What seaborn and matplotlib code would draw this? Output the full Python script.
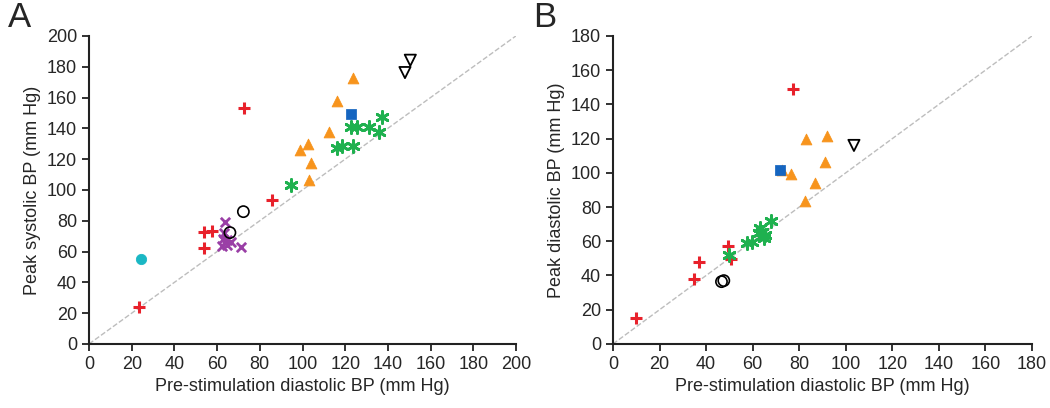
import numpy as np
import matplotlib
matplotlib.use('Agg')
import matplotlib.pyplot as plt
import seaborn as sns

# ---- panel A: pre-stimulation diastolic vs peak systolic ----
a_plus_x = [72.5, 23.6, 53.7, 57.7, 53.7, 85.6]
a_plus_y = [153.4, 24.2, 72.5, 73.6, 62.1, 93.5]
a_cyan_x = [24.2]
a_cyan_y = [55.4]
a_circ_x = [66.0, 72.3]
a_circ_y = [72.3, 85.9]
a_cross_x = [63.7, 63.2, 62.6, 64.8, 62.1, 66.4, 71.0, 64.5]
a_cross_y = [79.0, 71.9, 68.2, 67.5, 63.8, 66.0, 63.2, 64.3]
a_star_x = [94.5, 116.3, 118.3, 123.8, 122.6, 125.4, 131.0, 135.7, 137.1]
a_star_y = [103.5, 127.5, 128.6, 128.6, 141.1, 140.7, 140.7, 137.9, 147.6]
a_tri_x = [102.7, 98.8, 104.0, 103.0, 112.6, 116.2, 123.7]
a_tri_y = [129.9, 126.0, 117.7, 106.5, 137.4, 157.6, 172.9]
a_sq_x = [122.6]
a_sq_y = [149.0]
a_dtri_x = [150.5, 148.0]
a_dtri_y = [184.2, 176.2]

# ---- panel B: pre-stimulation diastolic vs peak diastolic ----
b_plus_x = [9.9, 35.0, 36.9, 49.4, 50.8, 77.4]
b_plus_y = [15.4, 37.8, 47.7, 57.1, 49.7, 149.0]
b_star_x = [49.7, 67.7, 63.1, 64.2, 62.8, 65.2, 64.8, 59.8, 57.6]
b_star_y = [52.2, 72.0, 67.6, 65.6, 64.7, 63.7, 61.8, 59.8, 59.2]
b_circ_x = [46.6, 47.6]
b_circ_y = [36.4, 37.0]
b_tri_x = [72.7, 76.3, 83.0, 92.0, 91.0, 86.7, 82.3]
b_tri_y = [101.7, 99.2, 119.6, 121.6, 106.2, 94.3, 83.4]
b_sq_x = [71.7]
b_sq_y = [101.5]
b_dtri_x = [103.5]
b_dtri_y = [116.0]

RED = '#e8212b'
ORANGE = '#f7941d'
GREEN = '#1fb14f'
BLUE = '#1565c0'
CYAN = '#1ab7c4'
PURPLE = '#9a3fa6'

sns.set_style('ticks')
plt.rcParams['font.family'] = ['Liberation Sans', 'DejaVu Sans']

fig = plt.figure(figsize=(10.5, 4.08), dpi=100)
axA = fig.add_axes([0.0848, 0.157, 0.4066, 0.755])
axB = fig.add_axes([0.5838, 0.157, 0.3991, 0.755])


def plus(ax, x, y):
    sns.scatterplot(x=x, y=y, ax=ax, marker='+', color=RED, s=85, linewidth=2.2, zorder=3)


def star(ax, x, y):
    sns.scatterplot(x=x, y=y, ax=ax, marker=(6, 2, 0), color=GREEN, edgecolor=GREEN,
                    s=75, linewidth=2, zorder=3)


def tri(ax, x, y):
    sns.scatterplot(x=x, y=y, ax=ax, marker='^', color=ORANGE, edgecolor=ORANGE, s=60, zorder=3)


def square(ax, x, y):
    sns.scatterplot(x=x, y=y, ax=ax, marker='s', color=BLUE, edgecolor=BLUE, s=45, zorder=4)


def open_circ(ax, x, y):
    sns.scatterplot(x=x, y=y, ax=ax, marker='o', facecolor='none', edgecolor='black',
                    s=65, linewidth=1.2, zorder=3)


def open_dtri(ax, x, y):
    sns.scatterplot(x=x, y=y, ax=ax, marker='v', facecolor='none', edgecolor='black',
                    s=65, linewidth=1.3, zorder=3)


# panel A
axA.plot([0, 200], [0, 200], ls='--', color='#bdbdbd', lw=1, zorder=1)
plus(axA, a_plus_x, a_plus_y)
sns.scatterplot(x=a_cyan_x, y=a_cyan_y, ax=axA, marker='o', color=CYAN, edgecolor=CYAN, s=55, zorder=3)
sns.scatterplot(x=a_cross_x, y=a_cross_y, ax=axA, marker='x', color=PURPLE, s=45, linewidth=2, zorder=3)
open_circ(axA, a_circ_x, a_circ_y)
star(axA, a_star_x, a_star_y)
tri(axA, a_tri_x, a_tri_y)
square(axA, a_sq_x, a_sq_y)
open_dtri(axA, a_dtri_x, a_dtri_y)
axA.set_xlim(0, 200)
axA.set_ylim(0, 200)
axA.set_xticks(np.arange(0, 201, 20))
axA.set_yticks(np.arange(0, 201, 20))
axA.set_xlabel('Pre-stimulation diastolic BP (mm Hg)', fontsize=13)
axA.set_ylabel('Peak systolic BP (mm Hg)', fontsize=13)
axA.text(-0.19, 1.06, 'A', transform=axA.transAxes, fontsize=25, va='center', ha='left')

# panel B
axB.plot([0, 180], [0, 180], ls='--', color='#bdbdbd', lw=1, zorder=1)
tri(axB, b_tri_x, b_tri_y)
plus(axB, b_plus_x, b_plus_y)
star(axB, b_star_x, b_star_y)
open_circ(axB, b_circ_x, b_circ_y)
square(axB, b_sq_x, b_sq_y)
open_dtri(axB, b_dtri_x, b_dtri_y)
axB.set_xlim(0, 180)
axB.set_ylim(0, 180)
axB.set_xticks(np.arange(0, 181, 20))
axB.set_yticks(np.arange(0, 181, 20))
axB.set_xlabel('Pre-stimulation diastolic BP (mm Hg)', fontsize=13)
axB.set_ylabel('Peak diastolic BP (mm Hg)', fontsize=13)
axB.text(-0.19, 1.06, 'B', transform=axB.transAxes, fontsize=25, va='center', ha='left')

for ax in (axA, axB):
    sns.despine(ax=ax)
    for sp in ('left', 'bottom'):
        ax.spines[sp].set_linewidth(1.5)
        ax.spines[sp].set_color('#222222')
    ax.tick_params(labelsize=13, width=1.3, length=5, color='#222222')

fig.savefig('out.png', dpi=100)
